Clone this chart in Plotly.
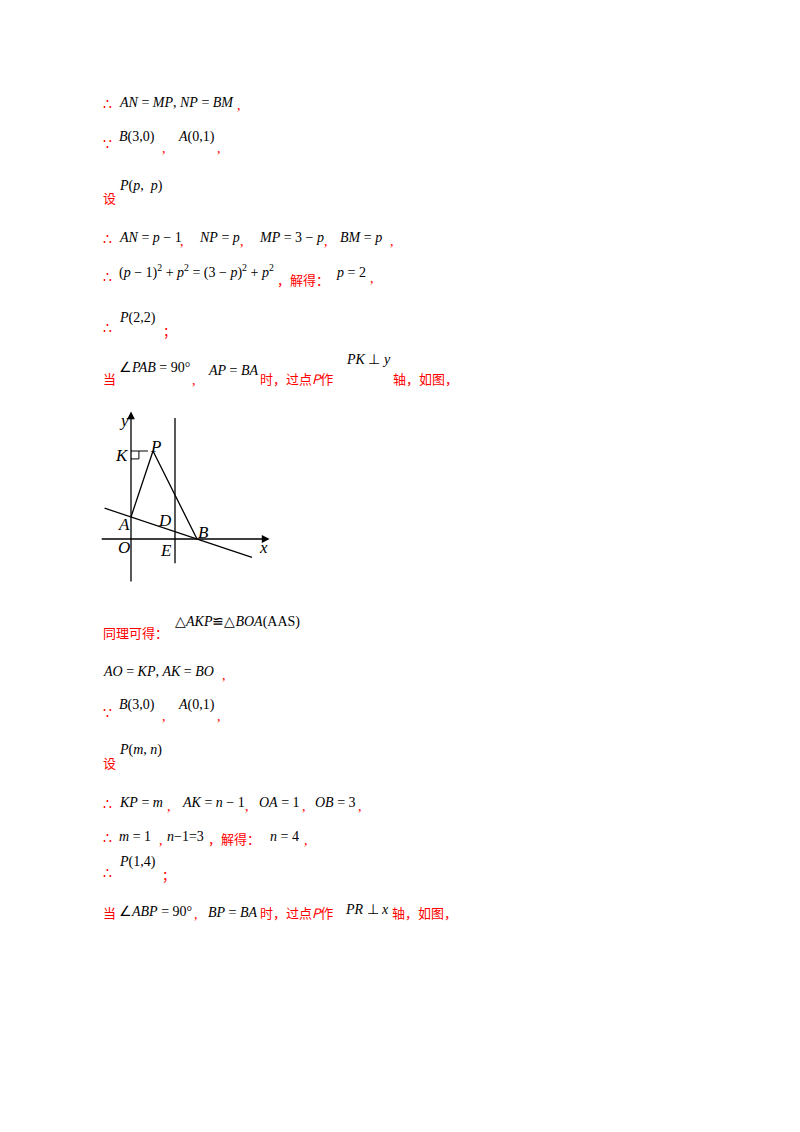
import plotly.graph_objects as go

W, H = 800, 1132
OFF = 8  # browser body margin
RED = "#ff0000"
BLK = "#000000"
MATH = "Liberation Serif"
CJK = "Noto Sans CJK SC"

# ---- diagram data (math units) ----
A_pt = (0, 1)
B_pt = (3, 0)
P_pt = (1, 4)
K_pt = (0, 4)
vline_x = 2
line_AB_x = [-1.2, 5.5]
line_AB_y = [1 - x / 3 for x in line_AB_x]
vline_y = [-1.1, 5.5]
xaxis_span = [-1.4, 6.3]
yaxis_span = [-2.0, 5.8]
diagram_labels = [("y", -0.3, 5.4), ("K", -0.4, 3.8), ("P", 1.1, 4.2), ("A", -0.3, 0.65),
                  ("D", 1.55, 0.85), ("B", 3.3, 0.3), ("O", -0.3, -0.4), ("E", 1.6, -0.5), ("x", 6.0, -0.4)]

# ---- text pieces: (x_px, y_px, text, color, font) ----
R, Bk = RED, BLK
pieces = [
    (101, 104, "∴", R, MATH), (117, 102, "<i>AN</i> = <i>MP</i>, <i>NP</i> = <i>BM</i>", Bk, MATH), (235, 106, ",", R, MATH),
    (101, 145, "∵", R, MATH), (117, 137, "<i>B</i>(3,0)", Bk, MATH), (160, 148, ",", R, MATH),
    (176, 137, "<i>A</i>(0,1)", Bk, MATH), (215, 148, ",", R, MATH),
    (101, 198, "设", R, CJK), (117, 186, "<i>P</i>(<i>p</i>,  <i>p</i>)", Bk, MATH),
    (101, 239, "∴", R, MATH), (117, 237, "<i>AN</i> = <i>p</i> − 1", Bk, MATH), (178, 241, ",", R, MATH),
    (197, 237, "<i>NP</i> = <i>p</i>", Bk, MATH), (238, 241, ",", R, MATH),
    (257, 237, "<i>MP</i> = 3 − <i>p</i>", Bk, MATH), (322, 241, ",", R, MATH),
    (338, 237, "<i>BM</i> = <i>p</i>", Bk, MATH), (388, 241, ",", R, MATH),
    (101, 277, "∴", R, MATH),
    (117, 271, "(<i>p</i> − 1)<sup>2</sup> + <i>p</i><sup>2</sup> = (3 − <i>p</i>)<sup>2</sup> + <i>p</i><sup>2</sup>", Bk, MATH),
    (275, 279, "，解得：", R, CJK), (334, 272, "<i>p</i> = 2", Bk, MATH), (368, 278, ",", R, MATH),
    (101, 328, "∴", R, MATH), (117, 318, "<i>P</i>(2,2)", Bk, MATH), (161, 330, "；", R, CJK),
    (101, 378, "当", R, CJK), (117, 367, "∠<i>PAB</i> = 90°", Bk, MATH), (190, 380, ",", R, MATH),
    (206, 370, "<i>AP</i> = <i>BA</i>", Bk, MATH), (258, 378, "时，过点<i>P</i>作", R, CJK),
    (344, 359, "<i>PK</i> ⊥ <i>y</i>", Bk, MATH), (391, 378, "轴，如图，", R, CJK),
    (101, 632, "同理可得：", R, CJK), (173, 622, "△<i>AKP</i>≌△<i>BOA</i>(AAS)", Bk, MATH),
    (101, 671, "<i>AO</i> = <i>KP</i>, <i>AK</i> = <i>BO</i>", Bk, MATH), (220, 675, ",", R, MATH),
    (101, 713, "∵", R, MATH), (117, 705, "<i>B</i>(3,0)", Bk, MATH), (160, 716, ",", R, MATH),
    (176, 705, "<i>A</i>(0,1)", Bk, MATH), (215, 716, ",", R, MATH),
    (101, 762, "设", R, CJK), (117, 750, "<i>P</i>(<i>m</i>, <i>n</i>)", Bk, MATH),
    (101, 804, "∴", R, MATH), (117, 802, "<i>KP</i> = <i>m</i>", Bk, MATH), (165, 806, ",", R, MATH),
    (180, 802, "<i>AK</i> = <i>n</i> − 1", Bk, MATH), (243, 806, ",", R, MATH),
    (257, 802, "<i>OA</i> = 1", Bk, MATH), (300, 806, ",", R, MATH),
    (313, 802, "<i>OB</i> = 3", Bk, MATH), (356, 806, ",", R, MATH),
    (101, 838, "∴", R, MATH), (117, 836, "<i>m</i> = 1", Bk, MATH), (157, 840, ",", R, MATH),
    (165, 836, "<i>n</i>−1=3", Bk, MATH), (206, 838, "，解得：", R, CJK),
    (268, 836, "<i>n</i> = 4", Bk, MATH), (302, 840, ",", R, MATH),
    (101, 873, "∴", R, MATH), (117, 862, "<i>P</i>(1,4)", Bk, MATH), (160, 874, "；", R, CJK),
    (101, 912, "当", R, CJK), (117, 911, "∠<i>ABP</i> = 90°", Bk, MATH), (192, 914, ",", R, MATH),
    (206, 912, "<i>BP</i> = <i>BA</i>", Bk, MATH), (258, 912, "时，过点<i>P</i>作", R, CJK),
    (343, 909, "<i>PR</i> ⊥ <i>x</i>", Bk, MATH), (390, 912, "轴，如图，", R, CJK),
]

fig = go.Figure()
ln = dict(color="black", width=1.3)
fig.add_trace(go.Scatter(x=line_AB_x, y=line_AB_y, mode="lines", line=ln, xaxis="x2", yaxis="y2"))
fig.add_trace(go.Scatter(x=[vline_x, vline_x], y=vline_y, mode="lines", line=ln, xaxis="x2", yaxis="y2"))
fig.add_trace(go.Scatter(x=[A_pt[0], P_pt[0], B_pt[0]], y=[A_pt[1], P_pt[1], B_pt[1]], mode="lines", line=ln, xaxis="x2", yaxis="y2"))
fig.add_trace(go.Scatter(x=[K_pt[0] + 0.36, P_pt[0]], y=[K_pt[1], P_pt[1]], mode="lines",
                         line=dict(color="black", width=1, dash="dash"), xaxis="x2", yaxis="y2"))
fig.add_trace(go.Scatter(x=[0, 0.36, 0.36, 0], y=[4, 4, 3.64, 3.64], mode="lines",
                         line=dict(color="black", width=1), xaxis="x2", yaxis="y2"))

ann = []
ann.append(dict(x=xaxis_span[1], y=0, ax=xaxis_span[0], ay=0, xref="x2", yref="y2", axref="x2", ayref="y2",
                showarrow=True, arrowhead=2, arrowsize=1.2, arrowwidth=1.3, arrowcolor="black", text=""))
ann.append(dict(x=0, y=yaxis_span[1], ax=0, ay=yaxis_span[0], xref="x2", yref="y2", axref="x2", ayref="y2",
                showarrow=True, arrowhead=2, arrowsize=1.2, arrowwidth=1.3, arrowcolor="black", text=""))
for t, x, y in diagram_labels:
    ann.append(dict(x=x, y=y, xref="x2", yref="y2", text=f"<i>{t}</i>", showarrow=False,
                    font=dict(family=MATH, size=17, color="black")))
for x, y, t, c, f in pieces:
    ann.append(dict(x=(x - OFF) / W, y=1 - (y - OFF) / H, xref="paper", yref="paper", text=t, showarrow=False,
                    xanchor="left", yanchor="middle",
                    font=dict(family=f, size=14 if f == MATH else 13, color=c)))

# diagram axis: 22 px per unit, origin at (131, 539)
px0, px1, py0, py1 = 95, 285, 400, 590
fig.update_layout(
    width=W, height=H, margin=dict(l=0, r=0, t=0, b=0), showlegend=False,
    plot_bgcolor="white", paper_bgcolor="white",
    xaxis=dict(visible=False, range=[0, 1], domain=[0, 1]),
    yaxis=dict(visible=False, range=[0, 1], domain=[0, 1]),
    xaxis2=dict(visible=False, domain=[(px0 - OFF) / W, (px1 - OFF) / W], range=[(px0 - 131) / 22, (px1 - 131) / 22], anchor="y2"),
    yaxis2=dict(visible=False, domain=[1 - (py1 - OFF) / H, 1 - (py0 - OFF) / H], range=[(539 - py1) / 22, (539 - py0) / 22], anchor="x2"),
    annotations=ann,
)
fig.write_html("out.html")
